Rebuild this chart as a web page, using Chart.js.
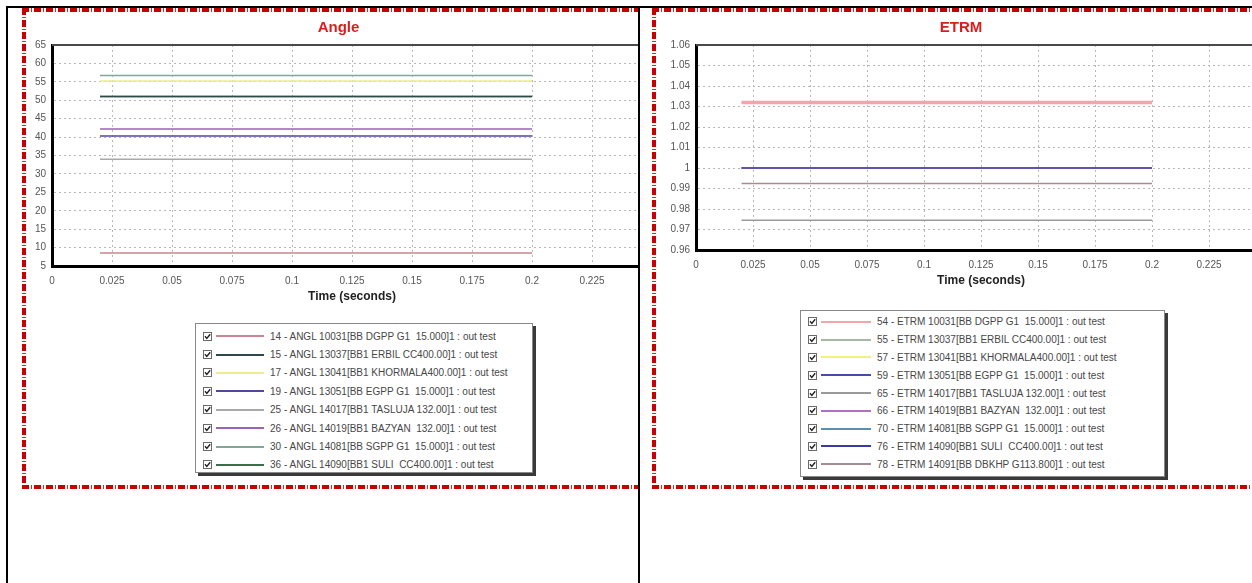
<!DOCTYPE html>
<html>
<head>
<meta charset="utf-8">
<script src="https://cdn.jsdelivr.net/npm/chart.js@4.4.1/dist/chart.umd.min.js"></script>
<style>
html,body{margin:0;padding:0;background:#fff;width:1252px;height:583px;overflow:hidden;position:relative;font-family:Arial,"Liberation Sans",sans-serif;}
.bl{position:absolute;background:#000;}
.cell{position:absolute;top:0;height:583px;overflow:hidden;}
.rh{position:absolute;height:4px;background:repeating-linear-gradient(90deg,#c80000 0 7px,transparent 7px 9px,#e22 9px 10px,transparent 10px 12px);}
.rv{position:absolute;width:4px;background:repeating-linear-gradient(180deg,#c80000 0 7px,transparent 7px 9px,#e22 9px 10px,transparent 10px 12px);}
canvas{position:absolute;}
.legend{position:absolute;border:1px solid #888;background:#fff;box-shadow:3px 3px 0 #3a3a3a;box-sizing:border-box;}
.row{display:flex;align-items:center;white-space:pre;font-size:10px;color:#474747;}
.row svg{flex:none;}
.sample{flex:none;height:2px;}
</style>
</head>
<body>
<div class="bl" style="left:6px;top:6px;width:1246px;height:2px"></div>
<div class="bl" style="left:6px;top:6px;width:2px;height:577px"></div>
<div class="bl" style="left:638px;top:6px;width:2px;height:577px"></div>

<div class="cell" id="cellL" style="left:0;width:638px;">
  <div class="rh" style="left:22px;top:8px;width:616px"></div>
  <div class="rv" style="left:22px;top:8px;height:481px"></div>
  <div class="rh" style="left:22px;top:485px;width:616px"></div>
  <canvas id="angleChart" width="647" height="299" style="left:25px;top:11px;width:647px;height:299px"></canvas>
  <div class="legend" id="angleLegend" style="left:195px;top:323px;width:338px;height:150px;padding-top:3px"></div>
</div>

<div class="cell" id="cellR" style="left:640px;width:612px;">
  <div class="rh" style="left:12px;top:8px;width:600px"></div>
  <div class="rv" style="left:12px;top:8px;height:481px"></div>
  <div class="rh" style="left:12px;top:485px;width:600px"></div>
  <canvas id="etrmChart" width="630" height="283" style="left:16px;top:11px;width:630px;height:283px"></canvas>
  <div class="legend" id="etrmLegend" style="left:160px;top:310px;width:365px;height:167px;padding-top:2px"></div>
</div>

<script>
// ---------- data ----------
const timeSpan = [0.02, 0.2];

const angleLabels = [
  "14 - ANGL 10031[BB DGPP G1  15.000]1 : out test",
  "15 - ANGL 13037[BB1 ERBIL CC400.00]1 : out test",
  "17 - ANGL 13041[BB1 KHORMALA400.00]1 : out test",
  "19 - ANGL 13051[BB EGPP G1  15.000]1 : out test",
  "25 - ANGL 14017[BB1 TASLUJA 132.00]1 : out test",
  "26 - ANGL 14019[BB1 BAZYAN  132.00]1 : out test",
  "30 - ANGL 14081[BB SGPP G1  15.000]1 : out test",
  "36 - ANGL 14090[BB1 SULI  CC400.00]1 : out test"
];
const angleValues = [8.5, 51.0, 55.2, 40.3, 34.0, 42.2, 56.7, 51.0];
const angleColors = ["#c98791", "#2e4a48", "#eeee88", "#5048a0", "#a9a9a9", "#9a62b8", "#7fa896", "#3c6e4c"];

const etrmLabels = [
  "54 - ETRM 10031[BB DGPP G1  15.000]1 : out test",
  "55 - ETRM 13037[BB1 ERBIL CC400.00]1 : out test",
  "57 - ETRM 13041[BB1 KHORMALA400.00]1 : out test",
  "59 - ETRM 13051[BB EGPP G1  15.000]1 : out test",
  "65 - ETRM 14017[BB1 TASLUJA 132.00]1 : out test",
  "66 - ETRM 14019[BB1 BAZYAN  132.00]1 : out test",
  "70 - ETRM 14081[BB SGPP G1  15.000]1 : out test",
  "76 - ETRM 14090[BB1 SULI  CC400.00]1 : out test",
  "78 - ETRM 14091[BB DBKHP G113.800]1 : out test"
];
const etrmValues = [1.032, 1.032, 1.032, 1.000, 0.9745, 1.000, 1.000, 1.000, 0.9925];
const etrmColors = ["#f4a4aa", "#a8b8a4", "#f2f27a", "#4a4aa8", "#9a9a9a", "#b070c4", "#5a8fb0", "#3a3aa0", "#a88a90"];

const angleAxis = {min: 5, max: 65, step: 5};
const etrmAxis = {min: 0.96, max: 1.06, step: 0.01};
const timeAxis = {min: 0, max: 0.25, step: 0.025};
// ---------------------------

Chart.defaults.font.family = 'Arial, "Liberation Sans", sans-serif';

const fmt = v => String(parseFloat(Number(v).toFixed(4)));

const topFrame = {
  id: 'topFrame',
  afterDraw(chart) {
    const {ctx, chartArea} = chart;
    ctx.save();
    ctx.strokeStyle = '#4a4a4a';
    ctx.lineWidth = 2;
    ctx.beginPath();
    ctx.moveTo(chartArea.left, chartArea.top);
    ctx.lineTo(chartArea.right, chartArea.top);
    ctx.stroke();
    ctx.restore();
  }
};

function makeDatasets(labels, values, colors, widths) {
  return labels.map((lab, i) => ({
    label: lab,
    data: timeSpan.map(t => ({x: t, y: values[i]})),
    borderColor: colors[i],
    backgroundColor: colors[i],
    borderWidth: widths[i],
    pointRadius: 0,
    fill: false,
    tension: 0
  }));
}

function makeChart(id, title, datasets, yAx, yWidth) {
  return new Chart(document.getElementById(id), {
    type: 'line',
    data: {datasets},
    plugins: [topFrame],
    options: {
      responsive: false,
      animation: false,
      events: [],
      layout: {padding: {left: 0, right: 20, top: 0, bottom: 0}},
      plugins: {
        legend: {display: false},
        tooltip: {enabled: false},
        title: {display: true, text: title, color: '#dd1c1c',
                font: {size: 15, weight: 'bold'}, padding: {top: 8, bottom: 8}}
      },
      scales: {
        x: {
          type: 'linear', min: timeAxis.min, max: timeAxis.max,
          ticks: {stepSize: timeAxis.step, color: '#555', font: {size: 10}, padding: 9,
                  maxRotation: 0, autoSkip: false, callback: fmt},
          grid: {color: '#b8b8b8', drawTicks: false},
          border: {color: '#000', width: 3, dash: [2, 3]},
          title: {display: true, text: 'Time (seconds)', color: '#222',
                  font: {size: 12, weight: 'bold'}, padding: {top: 0, bottom: 6}},
          afterFit: s => { s.height = 44; }
        },
        y: {
          type: 'linear', min: yAx.min, max: yAx.max,
          ticks: {stepSize: yAx.step, color: '#555', font: {size: 10}, padding: 6, callback: fmt},
          grid: {color: '#b8b8b8', drawTicks: false},
          border: {color: '#000', width: 3, dash: [2, 3]},
          afterFit: s => { s.width = yWidth; }
        }
      }
    }
  });
}

makeChart('angleChart', 'Angle',
  makeDatasets(angleLabels, angleValues, angleColors, angleLabels.map(() => 1.5)),
  angleAxis, 27);

makeChart('etrmChart', 'ETRM',
  makeDatasets(etrmLabels, etrmValues, etrmColors, etrmLabels.map((l, i) => i === 0 ? 3.5 : 1.5)),
  etrmAxis, 40);

function buildLegend(el, labels, colors, rowH, sampleW) {
  const check = '<svg width="9" height="9" style="margin-left:7px"><rect x="0.5" y="0.5" width="8" height="8" fill="#fff" stroke="#6a6a6a"/><path d="M2 4.3 L3.8 6.4 L7.2 2.2" stroke="#222" stroke-width="1.4" fill="none"/></svg>';
  labels.forEach((lab, i) => {
    const row = document.createElement('div');
    row.className = 'row';
    row.style.height = rowH + 'px';
    row.innerHTML = check +
      '<span class="sample" style="width:' + sampleW + 'px;margin-left:4px;background:' + colors[i] + '"></span>' +
      '<span style="margin-left:6px"></span>';
    row.lastChild.textContent = lab;
    el.appendChild(row);
  });
}
buildLegend(document.getElementById('angleLegend'), angleLabels, angleColors, 18.4, 48);
buildLegend(document.getElementById('etrmLegend'), etrmLabels, etrmColors, 17.8, 50);
</script>
</body>
</html>
